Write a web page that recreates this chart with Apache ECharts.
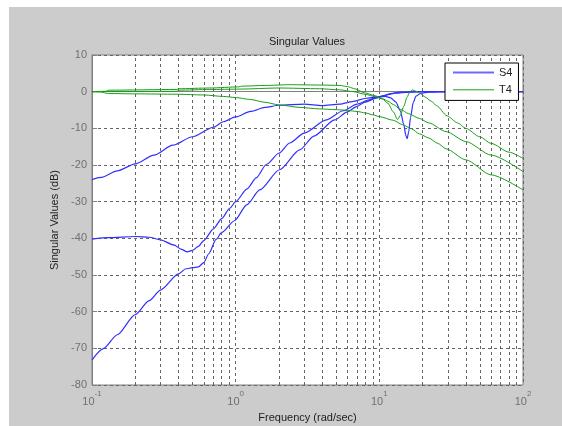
<!DOCTYPE html>
<html>
<head>
<meta charset="utf-8">
<script src="https://cdn.jsdelivr.net/npm/echarts@6/dist/echarts.min.js"></script>
<style>html,body{margin:0;padding:0;background:#fff}#c{width:562px;height:426px}</style>
</head>
<body>
<div id="c"></div>
<script>
// ---------- data (frequency rad/s, singular value dB) ----------
const s4Sv1 = [[0.1,-24.0],[0.115,-23.4],[0.15,-21.6],[0.2,-19.7],[0.27,-17.3],[0.366,-14.6],[0.5,-12.3],[0.7,-9.7],[0.82,-8.2],[1.0,-6.9],[1.27,-5.4],[1.6,-4.3],[2.0,-3.7],[3.0,-3.4],[4.0,-3.8],[5.3,-3.4],[6.5,-2.7],[8.1,-1.8],[9.5,-1.5],[11,-1.3],[12,-1.7],[13,-2.8],[14,-5.2],[14.8,-9],[15.3,-12],[15.6,-12.8],[16,-11],[16.5,-7],[17.2,-3],[18,-1.2],[19.5,-0.4],[22,-0.1],[30,0],[100,0]];
const s4Sv2 = [[0.1,-40.2],[0.13,-39.8],[0.2,-39.5],[0.25,-39.7],[0.3,-40.4],[0.37,-41.8],[0.42,-43],[0.46,-43.7],[0.5,-43.3],[0.55,-42.2],[0.6,-40.6],[0.7,-37.4],[0.8,-34.6],[0.91,-31.8],[1.0,-30.0],[1.2,-26.5],[1.39,-23.5],[1.64,-19.8],[2.0,-16.8],[2.38,-14.0],[3.0,-11.3],[4.28,-7.7],[5.6,-5.2],[7,-3.4],[8.5,-2.2],[9.5,-1.6],[11,-1.0],[13,-0.4],[16,-0.1],[20,0],[100,0]];
const s4Sv3 = [[0.1,-73.2],[0.12,-70.1],[0.15,-66.3],[0.2,-60.8],[0.25,-57.0],[0.3,-54.1],[0.4,-49.7],[0.45,-48.3],[0.5,-48.0],[0.55,-47.8],[0.6,-46.6],[0.65,-44.2],[0.73,-40.3],[0.8,-38.4],[0.98,-35.2],[1.2,-30.8],[1.47,-26.8],[2.02,-21.3],[2.79,-15.9],[3.5,-12.1],[4.89,-7.7],[6,-5.5],[7,-4.0],[8,-2.8],[9.5,-1.8],[10.5,-1.2],[12,-0.5],[14,-0.1],[20,0],[100,0]];
const t4Sv1 = [[0.1,0],[0.125,0.1],[0.13,0.4],[0.39,0.6],[0.4,0.8],[0.66,1.0],[1.05,1.3],[1.1,1.5],[1.6,1.7],[2.4,1.9],[4,1.8],[5.3,1.7],[6.0,1.4],[6.6,0.9],[7.9,-0.3],[9.3,-1.1],[10.5,-1.9],[11.5,-2.6],[12.5,-3.5],[14,-4.8],[16,-6],[19,-7.3],[22,-8.5],[29.2,-10.9],[40,-13.6],[60,-17.3],[100,-21.8]];
const t4Sv2 = [[0.1,0],[0.39,0.1],[0.4,0.4],[0.66,0.6],[1.07,0.7],[2,1.0],[3.85,0.8],[5.3,0.5],[6.6,0],[7.9,-0.7],[9.5,-1.4],[10.5,-2.0],[11.5,-3.2],[12.5,-5.5],[13.4,-7.6],[14,-6.5],[14.8,-4],[15.6,-1.5],[16.3,0],[17,0.5],[18,0.1],[19.5,-0.6],[20.7,-1.4],[23,-2.6],[25,-3.8],[29.6,-6.6],[35,-8.5],[40,-10],[50,-12.3],[60,-14.1],[80,-16.5],[100,-18.2]];
const t4Sv3 = [[0.1,0],[0.115,-0.1],[0.13,-0.5],[0.2,-0.6],[0.39,-0.7],[0.6,-0.9],[0.82,-1.3],[1.0,-1.6],[1.25,-2.1],[1.6,-2.9],[2.0,-3.6],[2.8,-4.3],[3.85,-4.7],[5,-4.9],[6,-5.1],[7,-5.4],[8,-5.8],[9,-6.3],[10,-6.8],[12.5,-7.8],[14.5,-9.0],[16.7,-10.1],[19,-11.5],[22,-12.6],[25.5,-14.1],[29.2,-15.6],[40,-18.6],[60,-22.7],[100,-26.8]];

const legendNames = ['S4', 'T4'];
const decadeExponents = ['-1', '0', '1', '2'];
const minorGridX = [0.2,0.3,0.4,0.5,0.6,0.7,0.8,0.9,2,3,4,5,6,7,8,9,20,30,40,50,60,70,80,90];
const yTicks = [10,0,-10,-20,-30,-40,-50,-60,-70,-80];

// ---------- styles ----------
const FONT = 'Liberation Sans, Arial, sans-serif';
const BLUE = '#2f2fff';
const GREEN = '#16a016';
const GRIDC = '#646464';
const TICKC = '#707070';

const chart = echarts.init(document.getElementById('c'), null, {renderer: 'canvas'});

function curve(name, data, color, width) {
  return {
    name: name, type: 'line', data: data, symbol: 'none', showSymbol: false,
    smooth: 0.25, smoothMonotone: 'x',
    lineStyle: {color: color, width: width}, itemStyle: {color: color},
    emphasis: {disabled: true}, silent: true, z: 3
  };
}

const option = {
  animation: false,
  backgroundColor: '#cccccc',
  graphic: [
    {type: 'rect', shape: {x: 0, y: 0, width: 562, height: 7}, style: {fill: '#ffffff'}, silent: true},
    {type: 'rect', shape: {x: 0, y: 0, width: 9, height: 426}, style: {fill: '#ffffff'}, silent: true}
  ],
  title: {
    text: 'Singular Values', left: 307, top: 36, textAlign: 'center', padding: 0,
    textStyle: {fontFamily: FONT, fontSize: 11, fontWeight: 'normal', color: '#222'}
  },
  legend: {
    data: [
      {name: legendNames[0], lineStyle: {color: '#6a6aff', width: 2}, itemStyle: {opacity: 0}},
      {name: legendNames[1], lineStyle: {color: GREEN, width: 1}, itemStyle: {opacity: 0}}
    ],
    orient: 'vertical', left: 445, top: 63,
    padding: [4, 6, 5, 7], itemWidth: 41, itemHeight: 14, itemGap: 6,
    backgroundColor: '#ffffff', borderColor: '#000000', borderWidth: 1, borderRadius: 0,
    textStyle: {fontFamily: FONT, fontSize: 11, color: '#222'},
    selectedMode: false, z: 10
  },
  grid: {
    left: 92, right: 39, top: 55, bottom: 41,
    show: true, backgroundColor: '#ffffff', borderColor: '#808080', borderWidth: 1,
    containLabel: false, outerBoundsMode: 'none'
  },
  xAxis: {
    type: 'log', logBase: 10, min: 0.1, max: 100,
    name: 'Frequency (rad/sec)', nameLocation: 'middle', nameGap: 27,
    nameTextStyle: {fontFamily: FONT, fontSize: 11, color: '#222'},
    axisLine: {show: true, lineStyle: {color: '#808080'}},
    axisTick: {show: true, inside: true, length: 5, lineStyle: {color: '#808080'}},
    splitLine: {show: true, lineStyle: {color: GRIDC, type: [3, 3], width: 1}},
    axisLabel: {
      margin: 5, showMinLabel: true, showMaxLabel: true,
      formatter: function (v) {
        const e = Math.round(Math.log10(v));
        const idx = e + 1;
        return '{b|10}{s|' + decadeExponents[idx] + '}';
      },
      rich: {
        b: {fontFamily: FONT, fontSize: 11, color: TICKC, padding: [6, 0, 0, 0]},
        s: {fontFamily: FONT, fontSize: 8, color: TICKC, verticalAlign: 'top'}
      }
    }
  },
  yAxis: {
    type: 'value', min: -80, max: 10, interval: 10,
    name: 'Singular Values (dB)', nameLocation: 'middle', nameGap: 30, nameRotate: 90,
    nameTextStyle: {fontFamily: FONT, fontSize: 11, color: '#222'},
    axisLine: {show: true, lineStyle: {color: '#808080'}},
    axisTick: {show: true, inside: true, length: 5, lineStyle: {color: '#808080'}},
    splitLine: {show: true, lineStyle: {color: GRIDC, type: [3, 3], width: 1}},
    axisLabel: {
      margin: 5, fontFamily: FONT, fontSize: 11, color: TICKC,
      formatter: function (v) { return yTicks.indexOf(v) >= 0 ? String(v) : ''; }
    }
  },
  series: [
    {
      name: 'minor-grid', type: 'line', data: [], symbol: 'none', silent: true, z: 1,
      markLine: {
        silent: true, symbol: ['none', 'none'], label: {show: false}, animation: false,
        lineStyle: {color: GRIDC, type: [3, 3], width: 1},
        emphasis: {disabled: true},
        data: minorGridX.map(function (v) { return {xAxis: v}; })
      }
    },
    curve(legendNames[0], s4Sv1, BLUE, 1.2),
    curve(legendNames[0], s4Sv2, BLUE, 1.2),
    curve(legendNames[0], s4Sv3, BLUE, 1.2),
    curve(legendNames[1], t4Sv1, GREEN, 1),
    curve(legendNames[1], t4Sv2, GREEN, 1),
    curve(legendNames[1], t4Sv3, GREEN, 1)
  ]
};
chart.setOption(option);
</script>
</body>
</html>
